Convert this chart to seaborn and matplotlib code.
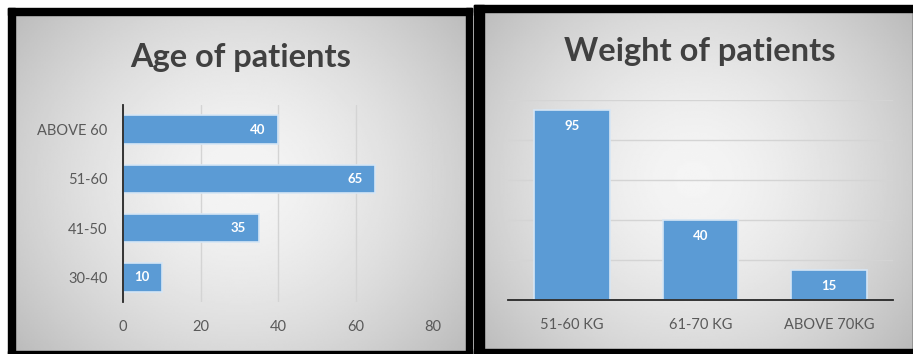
import numpy as np
import matplotlib
matplotlib.use('Agg')
import matplotlib.pyplot as plt
import seaborn as sns
from matplotlib.patches import Rectangle

# data
age_groups = ["ABOVE 60", "51-60", "41-50", "30-40"]
age_counts = [40, 65, 35, 10]
weight_groups = ["51-60 KG", "61-70 KG", "ABOVE 70KG"]
weight_counts = [95, 40, 15]

BLUE = '#5b9bd5'
TXT = '#595959'
GRID = '#d4d4d4'

sns.set_style("white")
plt.rcParams['font.family'] = ['Lato', 'DejaVu Sans']

W, H = 913, 354
fig = plt.figure(figsize=(W / 100, H / 100), dpi=100)
fig.patch.set_facecolor('white')


def px(x0, y0, x1, y1):
    # pixel box (top-left origin) -> figure rect
    return [x0 / W, 1 - y1 / H, (x1 - x0) / W, (y1 - y0) / H]


def panel(x0, y0, x1, y1, lw_l, lw_t, lw_r, lw_b):
    bg = fig.add_axes(px(x0, y0, x1, y1), zorder=0)
    yy, xx = np.mgrid[-1:1:200j, -1:1:300j]
    r = np.sqrt(xx ** 2 * 0.9 + yy ** 2 * 0.6)
    bg.imshow(0.96 - 0.17 * r ** 1.6, cmap='gray', vmin=0, vmax=1,
              aspect='auto', extent=[0, 1, 0, 1], interpolation='bilinear')
    bg.set_xlim(0, 1)
    bg.set_ylim(0, 1)
    bg.axis('off')
    w, h = x1 - x0, y1 - y0
    k = dict(color='black', transform=bg.transAxes, clip_on=False)
    bg.add_patch(Rectangle((0, 0), lw_l / w, 1, **k))
    bg.add_patch(Rectangle((0, 1 - lw_t / h), 1, lw_t / h, **k))
    bg.add_patch(Rectangle((1 - lw_r / w, 0), lw_r / w, 1, **k))
    bg.add_patch(Rectangle((0, 0), 1, lw_b / h, **k))


panel(8, 8, 472, 354, 7, 7, 6, 3)
panel(474, 5, 913, 354, 10, 7, 0, 5)

# left: age
ax1 = fig.add_axes(px(123, 105, 433, 302), zorder=2)
ax1.patch.set_alpha(0)
sns.barplot(x=age_counts, y=age_groups, orient='h', color=BLUE, width=0.58,
            edgecolor='#d6e6f5', linewidth=1.2, saturation=1, ax=ax1)
ax1.set_xlim(0, 80)
ax1.set_ylim(3.5, -0.5)
ax1.set_xticks(range(0, 81, 20))
ax1.xaxis.grid(True, color=GRID, lw=1)
ax1.set_axisbelow(True)
for s in ['top', 'right', 'bottom']:
    ax1.spines[s].set_visible(False)
ax1.spines['left'].set_color('#262626')
ax1.spines['left'].set_linewidth(1.3)
ax1.tick_params(length=0, labelsize=10.5, labelcolor=TXT)
ax1.tick_params(axis='x', pad=13)
ax1.tick_params(axis='y', pad=11)
ax1.set_xlabel('')
ax1.set_ylabel('')
for t in ax1.bar_label(ax1.containers[0], padding=-9, color='white',
                       fontsize=9.5, fontweight='bold'):
    t.set_ha('right')
fig.text(241 / W, 1 - 58 / H, "Age of patients", ha='center', va='center',
         fontsize=23.5, fontweight='bold', color='#404040')

# right: weight
ax2 = fig.add_axes(px(508, 100, 893, 300), zorder=2)
ax2.patch.set_alpha(0)
sns.barplot(x=weight_groups, y=weight_counts, color=BLUE, width=0.59,
            edgecolor='#d6e6f5', linewidth=1.2, saturation=1, ax=ax2)
ax2.set_ylim(0, 100)
ax2.set_xlim(-0.5, 2.5)
ax2.set_yticks(range(0, 101, 20))
ax2.yaxis.grid(True, color=GRID, lw=1)
ax2.set_axisbelow(True)
for s in ['top', 'right', 'left']:
    ax2.spines[s].set_visible(False)
ax2.spines['bottom'].set_color('#262626')
ax2.spines['bottom'].set_linewidth(1.3)
ax2.tick_params(length=0, labelsize=10.5, labelcolor=TXT)
ax2.tick_params(axis='x', pad=13)
ax2.set_yticklabels([])
ax2.set_xlabel('')
ax2.set_ylabel('')
for t in ax2.bar_label(ax2.containers[0], padding=-7, color='white',
                       fontsize=9.5, fontweight='bold'):
    t.set_va('top')
fig.text(700 / W, 1 - 52 / H, "Weight of patients", ha='center', va='center',
         fontsize=23.5, fontweight='bold', color='#404040')

fig.savefig('out.png', dpi=100)
